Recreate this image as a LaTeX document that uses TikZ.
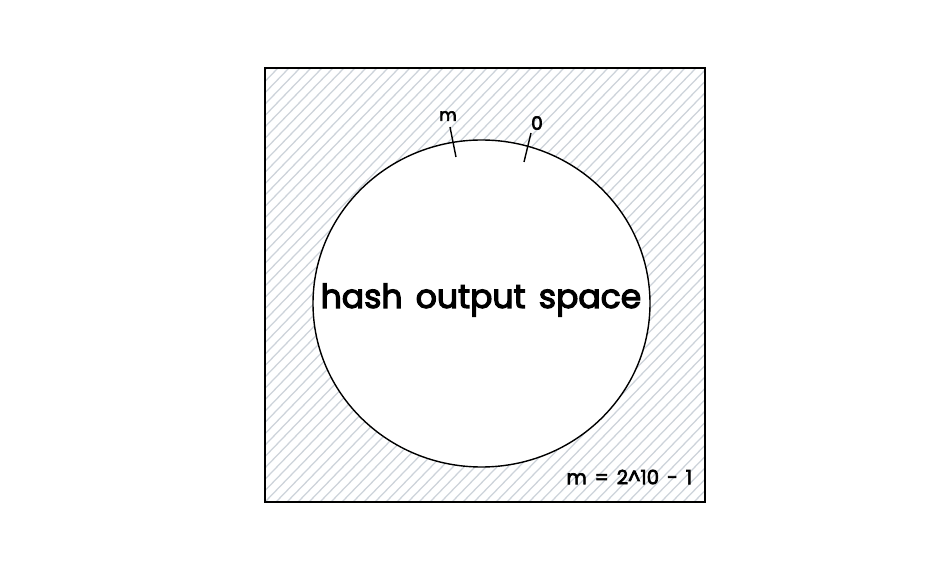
\documentclass[tikz,border=0pt]{standalone}
\usepackage{fontspec}
\setmainfont{Poppins}[BoldFont=Poppins,BoldFeatures={FakeBold=3.5}]
\usetikzlibrary{calc}
\definecolor{hatchgray}{HTML}{CDD3DA}
\tikzset{hatch/.style={line width=0.9pt,color=hatchgray},
  mark tick/.style={line width=1pt,black}}

\begin{document}
\begin{tikzpicture}[x=0.025cm,y=-0.025cm]
	\useasboundingbox (0,0) rectangle (950,578);
	% hatched square
	\begin{scope}
		\clip (265,68) rectangle (705,502);
		\foreach \x in {-175,-164,...,705}
			\draw [hatch] (\x,502) -- (\x+420,68);
	\end{scope}
	\draw [line width=2pt] (265,68) rectangle (705,502);
	% the output space
	\draw [fill=white,line width=1pt] (481.5,303.5) ellipse [x radius=168.5,y radius=163.5];
	\node (space) at (481,300) {\fontsize{23.5}{28}\selectfont\bfseries hash\hspace{0.4em}output\hspace{0.4em}space};
	% ends of the range
	\coordinate (ma) at (450,127);
	\coordinate (mb) at (456,157);
	\coordinate (za) at (531,133);
	\coordinate (zb) at (524,162);
	\draw [mark tick] (ma) -- (mb);
	\draw [mark tick] (za) -- (zb);
	\node (mlabel) at (448,116) {\fontsize{12}{14}\selectfont\bfseries m};
	\node (zlabel) at (537,123) {\fontsize{13}{14}\selectfont\bfseries 0};
	\node [anchor=east] (size) at (697,477) {\fontsize{14}{16}\selectfont\bfseries m\hspace{0.4em}=\hspace{0.4em}2\textasciicircum10\hspace{0.4em}-\hspace{0.4em}1};
\end{tikzpicture}
\end{document}
